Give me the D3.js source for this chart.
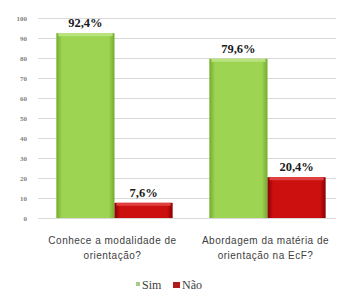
<!DOCTYPE html>
<html>
<head>
<meta charset="utf-8">
<script src="https://cdn.jsdelivr.net/npm/d3@7"></script>
<style>
  body { margin: 0; background: #fff; }
  svg { display: block; }
</style>
</head>
<body>
<div id="chart"></div>
<script>
// data
const categories = [["Conhece a modalidade de", "orientação?"], ["Abordagem da matéria de", "orientação na EcF?"]]
const series = ["Sim", "Não"]
const sim = [92.4, 79.6]
const nao = [7.6, 20.4]
const valueLabels = [["92,4%", "7,6%"], ["79,6%", "20,4%"]]
const yTicks = [0, 10, 20, 30, 40, 50, 60, 70, 80, 90, 100]

const W = 340, H = 296
const svg = d3.select("#chart").append("svg")
    .attr("width", W).attr("height", H)

// gradients for the bevelled bars
const defs = svg.append("defs")
function grad(id, edge, mid) {
    const g = defs.append("linearGradient").attr("id", id)
        .attr("x1", 0).attr("x2", 1).attr("y1", 0).attr("y2", 0)
    g.append("stop").attr("offset", "0%").attr("stop-color", edge)
    g.append("stop").attr("offset", "10%").attr("stop-color", mid)
    g.append("stop").attr("offset", "90%").attr("stop-color", mid)
    g.append("stop").attr("offset", "100%").attr("stop-color", edge)
}
grad("gSim", "#74ab2c", "#9dd553")
grad("gNao", "#8a0000", "#cc1010")
const colors = { "Sim": "url(#gSim)", "Não": "url(#gNao)" }
const legendColors = { "Sim": "#a9c98a", "Não": "#b01a1a" }

// scales
const x = d3.scaleBand()
    .domain(d3.range(categories.length))
    .range([38, 344])
    .paddingInner(0.24)
    .paddingOuter(0.12)

const xs = d3.scaleBand()
    .domain(series)
    .range([0, x.bandwidth()])

const y = d3.scaleLinear()
    .domain([0, 100])
    .range([218, 18])

// grid
svg.append("g")
    .selectAll("line")
    .data(yTicks)
    .join("line")
    .attr("x1", 38).attr("x2", 336)
    .attr("y1", d => y(d) + 0.5).attr("y2", d => y(d) + 0.5)
    .attr("stroke", "#d9d9d9")
    .attr("stroke-width", 1)

// y axis labels
svg.append("g")
    .selectAll("text")
    .data(yTicks)
    .join("text")
    .attr("x", 27)
    .attr("y", d => y(d) + 2.5)
    .attr("text-anchor", "end")
    .attr("font-family", "Liberation Serif")
    .attr("font-size", 7)
    .attr("font-weight", "bold")
    .attr("fill", "#7f7f7f")
    .text(d => d)

// bars
const rows = []
categories.forEach((c, i) => {
    rows.push({ i, s: "Sim", v: sim[i], label: valueLabels[i][0] })
    rows.push({ i, s: "Não", v: nao[i], label: valueLabels[i][1] })
})

svg.append("g")
    .selectAll("rect")
    .data(rows)
    .join("rect")
    .attr("x", d => x(d.i) + xs(d.s))
    .attr("y", d => y(d.v))
    .attr("width", xs.bandwidth())
    .attr("height", d => y(0) - y(d.v))
    .attr("fill", d => colors[d.s])

// top bevel highlight
svg.append("g")
    .selectAll("rect")
    .data(rows)
    .join("rect")
    .attr("x", d => x(d.i) + xs(d.s) + 2)
    .attr("y", d => y(d.v))
    .attr("width", xs.bandwidth() - 4)
    .attr("height", 3)
    .attr("fill", d => d.s == "Sim" ? "#b8e37e" : "#e04040")

// value labels
svg.append("g")
    .selectAll("text")
    .data(rows)
    .join("text")
    .attr("x", d => x(d.i) + xs(d.s) + xs.bandwidth() / 2)
    .attr("y", d => y(d.v) - 6)
    .attr("text-anchor", "middle")
    .attr("font-family", "Liberation Serif")
    .attr("font-weight", "bold")
    .attr("font-size", 12.5)
    .attr("fill", "#1a1a1a")
    .text(d => d.label)

// category labels
const cat = svg.append("g")
    .selectAll("text")
    .data(categories)
    .join("text")
    .attr("x", (d, i) => x(i) + x.bandwidth() / 2 - 2)
    .attr("y", 244)
    .attr("text-anchor", "middle")
    .attr("font-family", "Liberation Sans")
    .attr("font-size", 10)
    .attr("letter-spacing", 0.5)
    .attr("fill", "#404040")

cat.selectAll("tspan")
    .data(d => d)
    .join("tspan")
    .attr("x", function () { return d3.select(this.parentNode).attr("x") })
    .attr("dy", (d, j) => j == 0 ? 0 : 15)
    .text(d => d)

// legend
const legend = svg.append("g").attr("transform", "translate(136,285)")
const lx = [0, 37]
series.forEach((s, i) => {
    legend.append("rect")
        .attr("x", lx[i]).attr("y", -3)
        .attr("width", i == 0 ? 4 : 7).attr("height", i == 0 ? 4 : 6)
        .attr("fill", legendColors[s])
    legend.append("text")
        .attr("x", lx[i] + (i == 0 ? 6 : 9)).attr("y", 4)
        .attr("font-family", "Liberation Serif")
        .attr("font-size", 12)
        .attr("fill", "#404040")
        .text(s)
})
</script>
</body>
</html>
